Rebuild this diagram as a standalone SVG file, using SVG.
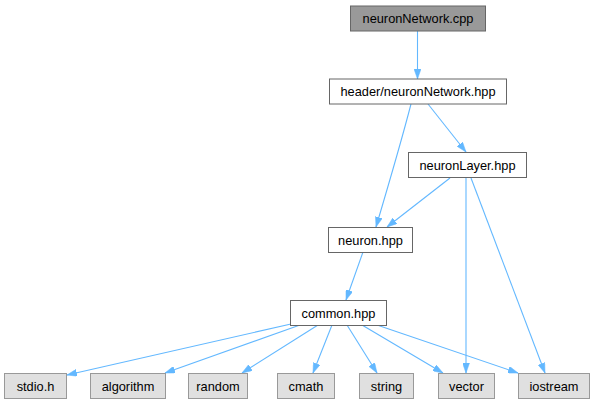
<svg xmlns="http://www.w3.org/2000/svg" width="595" height="405" viewBox="0 0 595 405">
<style>
  .t { font-family: "Liberation Sans", Arial, Helvetica, sans-serif; font-size: 12.8px; fill: #000; text-anchor: middle; }
  .main rect { fill: #999999; stroke: #666666; stroke-width: 1; }
  .node rect { fill: #ffffff; stroke: #666666; stroke-width: 1; }
  .ext rect { fill: #e0e0e0; stroke: #999999; stroke-width: 1; }
  .edges path { fill: none; stroke: #63b8ff; stroke-width: 1.1; marker-end: url(#arr); }
</style>
<defs>
  <marker id="arr" viewBox="0 0 10 7" refX="10" refY="3.5" markerWidth="10" markerHeight="7" markerUnits="userSpaceOnUse" orient="auto">
    <path d="M0,0 L10,3.5 L0,7 z" fill="#63b8ff" stroke="#63b8ff" stroke-width="0.5"/>
  </marker>
</defs>
<rect width="595" height="405" fill="#ffffff"/>
<g class="edges" id="edges">
  <path d="M417.5,31 L417.5,79"/>
  <path d="M411,104 C403,135 387,190 376,227"/>
  <path d="M428,104 L466,152"/>
  <path d="M450,178 L387,227"/>
  <path d="M466,178 L466,373"/>
  <path d="M471,178 L545,373"/>
  <path d="M363,252 L346,300"/>
  <path d="M291,324 L67,375"/>
  <path d="M300,325 L165,373"/>
  <path d="M318,325 L242,373"/>
  <path d="M332,325 L313,373"/>
  <path d="M347,325 L377,373"/>
  <path d="M362,325 L443,373"/>
  <path d="M377,325 L518,373"/>
</g>
<g id="node-neuronNetwork-cpp" class="main">
  <rect x="350.5" y="6" width="135" height="25"/>
  <text class="t" x="418" y="23">neuronNetwork.cpp</text>
</g>
<g id="node-header-neuronNetwork-hpp" class="node">
  <rect x="329.5" y="79" width="177" height="25"/>
  <text class="t" x="418" y="96">header/neuronNetwork.hpp</text>
</g>
<g id="node-neuronLayer-hpp" class="node">
  <rect x="408.5" y="152.5" width="118" height="25"/>
  <text class="t" x="467.5" y="169.5">neuronLayer.hpp</text>
</g>
<g id="node-neuron-hpp" class="node">
  <rect x="328.5" y="227.5" width="84" height="25"/>
  <text class="t" x="370.5" y="244.5">neuron.hpp</text>
</g>
<g id="node-common-hpp" class="node">
  <rect x="290.5" y="300.5" width="96" height="25"/>
  <text class="t" x="338.5" y="317.5">common.hpp</text>
</g>
<g id="node-stdio-h" class="ext">
  <rect x="4.5" y="373.5" width="62" height="25"/>
  <text class="t" x="35.5" y="390.5">stdio.h</text>
</g>
<g id="node-algorithm" class="ext">
  <rect x="90.5" y="373.5" width="75" height="25"/>
  <text class="t" x="128" y="390.5">algorithm</text>
</g>
<g id="node-random" class="ext">
  <rect x="188.5" y="373.5" width="59" height="25"/>
  <text class="t" x="218" y="390.5">random</text>
</g>
<g id="node-cmath" class="ext">
  <rect x="277.5" y="373.5" width="57" height="25"/>
  <text class="t" x="306" y="390.5">cmath</text>
</g>
<g id="node-string" class="ext">
  <rect x="359.5" y="373.5" width="54" height="25"/>
  <text class="t" x="386.5" y="390.5">string</text>
</g>
<g id="node-vector" class="ext">
  <rect x="438.5" y="373.5" width="56" height="25"/>
  <text class="t" x="466.5" y="390.5">vector</text>
</g>
<g id="node-iostream" class="ext">
  <rect x="518.5" y="373.5" width="71" height="25"/>
  <text class="t" x="554" y="390.5">iostream</text>
</g>
</svg>
